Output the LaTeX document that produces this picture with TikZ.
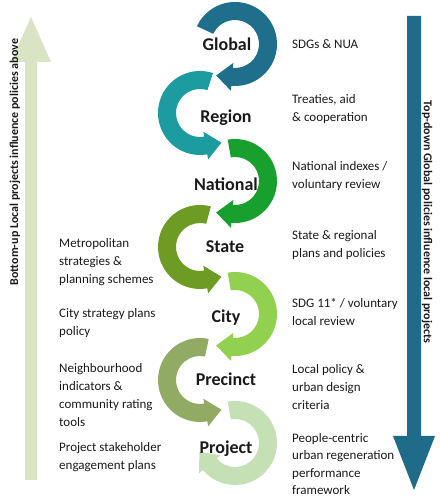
\documentclass[tikz,border=0pt]{standalone}
\usepackage{fontspec}
\setmainfont{Carlito}
\usetikzlibrary{calc}
\definecolor{cGlobal}{HTML}{1F6E8C}
\definecolor{cRegion}{HTML}{1C9BA0}
\definecolor{cNational}{HTML}{18A02E}
\definecolor{cState}{HTML}{6E9B23}
\definecolor{cCity}{HTML}{92D050}
\definecolor{cPrecinct}{HTML}{91AA64}
\definecolor{cProject}{HTML}{C5E0B4}
\definecolor{cUp}{HTML}{D8E4C4}
\definecolor{cDown}{HTML}{1F6B8A}
\definecolor{txt}{HTML}{1A1A1A}
\newcommand{\ringcw}[4]{%
  \fill[#4] ($(#1)+(#2:42pt)$) arc[start angle=#2, end angle=#3, radius=42pt]
    -- ($(#1)+(#3:47pt)$) -- ($(#1)+(#3:33pt)+({#3-90}:16pt)$) -- ($(#1)+(#3:19pt)$)
    -- ($(#1)+(#3:24pt)$) arc[start angle=#3, end angle=#2, radius=24pt] -- cycle;}
\newcommand{\ringccw}[4]{%
  \fill[#4] ($(#1)+(#2:42pt)$) arc[start angle=#2, end angle=#3, radius=42pt]
    -- ($(#1)+(#3:47pt)$) -- ($(#1)+(#3:33pt)+({#3+90}:16pt)$) -- ($(#1)+(#3:19pt)$)
    -- ($(#1)+(#3:24pt)$) arc[start angle=#3, end angle=#2, radius=24pt] -- cycle;}
\tikzset{
  lvl/.style={font=\fontsize{18}{20}\selectfont\bfseries, text=txt, text height=12pt, text depth=0pt, inner sep=0pt, anchor=center},
  desc/.style={font=\fontsize{13}{18}\selectfont, text=txt, align=left, anchor=west, inner sep=0pt},
  side/.style={font=\fontsize{12}{14}\selectfont\bfseries, text=txt, inner sep=0pt},
}
\begin{document}
\begin{tikzpicture}[x=1pt,y=1pt]
\useasboundingbox (0,0) rectangle (439,500);
% side arrows
\fill[cUp] (25,20) -- (37,20) -- (37,438) -- (51,438) -- (31,483) -- (11,438) -- (25,438) -- cycle;
\fill[cDown] (407,484) -- (421,484) -- (421,64) -- (435,64) -- (414,10) -- (393,64) -- (407,64) -- cycle;
\node[side, rotate=90] (up) at (15,338) {Bottom-up Local projects influence policies above};
\node[side, rotate=-90] (down) at (427,278) {Top-down Global policies influence local projects};
% ring centres
\coordinate (cG) at (235,456);
\coordinate (cR) at (200,387);
\coordinate (cN) at (235,319);
\coordinate (cS) at (200,253);
\coordinate (cC) at (235,186);
\coordinate (cP) at (200,120);
\coordinate (cJ) at (235,57);
\ringcw{cG}{155}{-95}{cGlobal}
\ringccw{cR}{72}{280}{cRegion}
\ringcw{cN}{100}{-95}{cNational}
\ringccw{cS}{75}{280}{cState}
\ringcw{cC}{100}{-95}{cCity}
\ringccw{cP}{78}{280}{cPrecinct}
\ringcw{cJ}{100}{-140}{cProject}
% level labels
\node[lvl] (Global) at (227,455) {Global};
\node[lvl] (Region) at (226,383) {Region};
\node[lvl] (National) at (226,315) {National};
\node[lvl] (State) at (225,253) {State};
\node[lvl] (City) at (226,183) {City};
\node[lvl] (Precinct) at (226,120) {Precinct};
\node[lvl] (Project) at (226,52) {Project};
% right descriptions
\node[desc] (dG) at (292,456) {SDGs \& NUA};
\node[desc] (dR) at (292,391) {Treaties, aid\\\& cooperation};
\node[desc] (dN) at (292,324) {National indexes /\\voluntary review};
\node[desc] (dS) at (292,255) {State \& regional\\plans and policies};
\node[desc] (dC) at (292,188) {SDG 11* / voluntary\\local review};
\node[desc] (dP) at (292,113) {Local policy \&\\urban design\\criteria};
\node[desc, font=\fontsize{13}{17.5}\selectfont] (dJ) at (292,36) {People-centric\\urban regeneration\\performance\\framework};
% left descriptions
\node[desc] (lS) at (59,238) {Metropolitan\\strategies \&\\planning schemes};
\node[desc] (lC) at (59,177) {City strategy plans\\policy};
\node[desc] (lP) at (59,105) {Neighbourhood\\indicators \&\\community rating\\tools};
\node[desc] (lJ) at (59,43) {Project stakeholder\\engagement plans};
\end{tikzpicture}
\end{document}
